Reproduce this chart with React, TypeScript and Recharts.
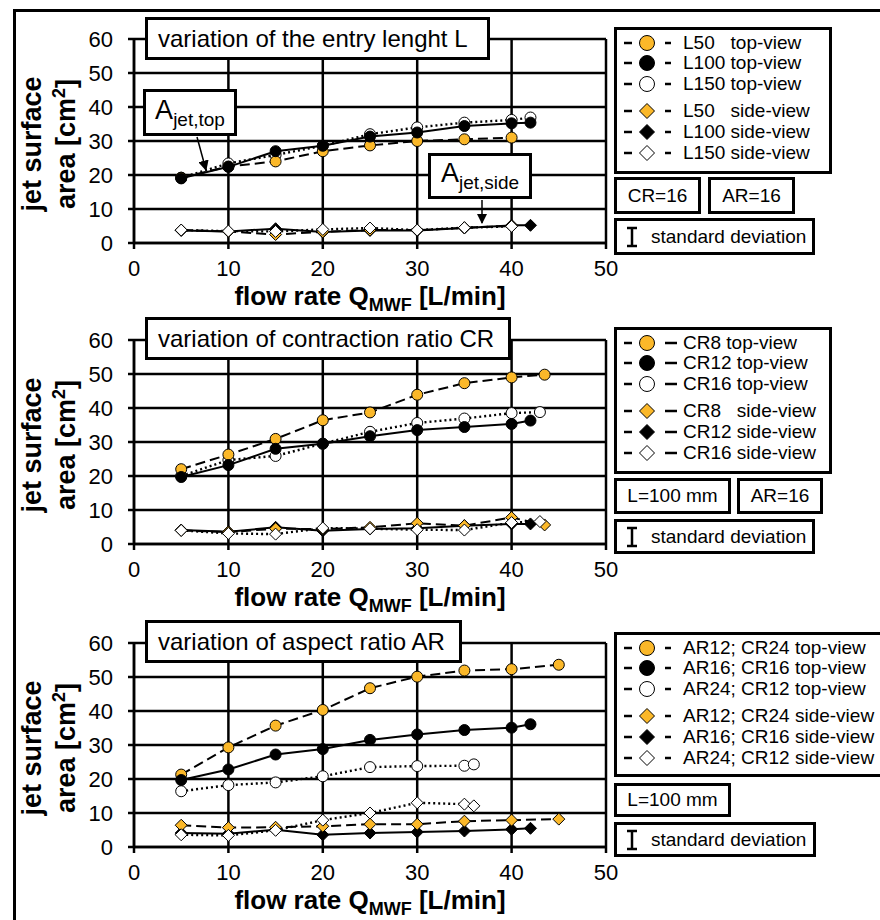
import React from 'react';
import { LineChart, Line, XAxis, YAxis, CartesianGrid } from 'recharts';

const FONT = '"Liberation Sans", Arial, Helvetica, sans-serif';
const YELLOW = '#FBB829';

// flow rates Q_MWF [L/min]
const q40 = [5, 10, 15, 20, 25, 30, 35, 40];
const q42 = [5, 10, 15, 20, 25, 30, 35, 40, 42];
const q43 = [5, 10, 15, 20, 25, 30, 35, 40, 43];
const q435 = [5, 10, 15, 20, 25, 30, 35, 40, 43.5];
const q45 = [5, 10, 15, 20, 25, 30, 35, 40, 45];
const q36 = [5, 10, 15, 20, 25, 30, 35, 36];

// panel 1: entry length L, jet surface area [cm²]
const l50Top = [19.2, 22.5, 24.0, 27.0, 28.7, 30.0, 30.5, 31.0];
const l100Top = [19.0, 22.4, 27.0, 28.6, 31.3, 32.5, 34.4, 35.2, 35.4];
const l150Top = [19.2, 23.4, 25.9, 28.6, 32.0, 34.0, 35.4, 36.2, 36.9];
const l50Side = [3.8, 3.4, 2.5, 3.3, 3.8, 3.8, 4.5, 5.0];
const l100Side = [3.7, 3.4, 4.2, 3.2, 3.7, 3.7, 4.4, 5.2, 5.2];
const l150Side = [3.8, 3.5, 3.4, 4.0, 4.4, 3.8, 4.5, 4.9];

// panel 2: contraction ratio CR
const cr8Top = [22.0, 26.3, 30.9, 36.4, 38.7, 43.9, 47.3, 49.0, 49.8];
const cr12Top = [19.7, 23.2, 28.0, 29.5, 31.7, 33.5, 34.4, 35.3, 36.3];
const cr16Top = [20.0, 24.7, 25.9, 29.5, 33.0, 35.6, 36.9, 38.5, 38.8];
const cr8Side = [4.0, 3.5, 4.5, 4.4, 4.9, 6.1, 5.4, 7.8, 5.6];
const cr12Side = [4.1, 3.6, 4.9, 3.9, 4.4, 4.6, 5.4, 5.9, 5.9];
const cr16Side = [4.0, 3.1, 2.9, 4.7, 4.5, 4.2, 4.1, 6.3, 6.6];

// panel 3: aspect ratio AR
const ar12Top = [21.3, 29.3, 35.7, 40.3, 46.7, 50.1, 51.9, 52.3, 53.6];
const ar16Top = [19.7, 22.8, 27.2, 28.8, 31.5, 33.1, 34.4, 35.1, 36.1];
const ar24Top = [16.4, 18.2, 19.0, 20.8, 23.5, 23.8, 23.9, 24.3];
const ar12Side = [6.4, 5.7, 5.8, 6.1, 6.7, 6.7, 7.6, 7.9, 8.2];
const ar16Side = [4.1, 3.9, 5.1, 3.6, 4.1, 4.4, 4.7, 5.2, 5.5];
const ar24Side = [3.6, 3.4, 4.9, 7.9, 10.0, 13.0, 12.6, 12.1];

const xTicks = [0, 10, 20, 30, 40, 50];
const yTicks = [0, 10, 20, 30, 40, 50, 60];

type Shape = 'circle' | 'diamond';
type Series = { key: string; label: string; q: number[]; a: number[]; fill: string; shape: Shape; dash?: string };

const DASHED = '10 5';
const DOTTED = '2 3';

const toPts = (q: number[], a: number[]) => q.map((x, i) => ({ q: x, a: a[i] }));

// legend order (top-view first, then side-view)
const panel1: Series[] = [
  { key: 'l50t', label: 'L50   top-view', q: q40, a: l50Top, fill: YELLOW, shape: 'circle', dash: DASHED },
  { key: 'l100t', label: 'L100 top-view', q: q42, a: l100Top, fill: '#000', shape: 'circle' },
  { key: 'l150t', label: 'L150 top-view', q: q42, a: l150Top, fill: '#fff', shape: 'circle', dash: DOTTED },
  { key: 'l50s', label: 'L50   side-view', q: q40, a: l50Side, fill: YELLOW, shape: 'diamond', dash: DASHED },
  { key: 'l100s', label: 'L100 side-view', q: q42, a: l100Side, fill: '#000', shape: 'diamond' },
  { key: 'l150s', label: 'L150 side-view', q: q40, a: l150Side, fill: '#fff', shape: 'diamond', dash: DOTTED },
];

const panel2: Series[] = [
  { key: 'cr8t', label: 'CR8 top-view', q: q435, a: cr8Top, fill: YELLOW, shape: 'circle', dash: DASHED },
  { key: 'cr12t', label: 'CR12 top-view', q: q42, a: cr12Top, fill: '#000', shape: 'circle' },
  { key: 'cr16t', label: 'CR16 top-view', q: q43, a: cr16Top, fill: '#fff', shape: 'circle', dash: DOTTED },
  { key: 'cr8s', label: 'CR8   side-view', q: q435, a: cr8Side, fill: YELLOW, shape: 'diamond', dash: DASHED },
  { key: 'cr12s', label: 'CR12 side-view', q: q42, a: cr12Side, fill: '#000', shape: 'diamond' },
  { key: 'cr16s', label: 'CR16 side-view', q: q43, a: cr16Side, fill: '#fff', shape: 'diamond', dash: DOTTED },
];

const panel3: Series[] = [
  { key: 'ar12t', label: 'AR12; CR24 top-view', q: q45, a: ar12Top, fill: YELLOW, shape: 'circle', dash: DASHED },
  { key: 'ar16t', label: 'AR16; CR16 top-view', q: q42, a: ar16Top, fill: '#000', shape: 'circle' },
  { key: 'ar24t', label: 'AR24; CR12 top-view', q: q36, a: ar24Top, fill: '#fff', shape: 'circle', dash: DOTTED },
  { key: 'ar12s', label: 'AR12; CR24 side-view', q: q45, a: ar12Side, fill: YELLOW, shape: 'diamond', dash: DASHED },
  { key: 'ar16s', label: 'AR16; CR16 side-view', q: q42, a: ar16Side, fill: '#000', shape: 'diamond' },
  { key: 'ar24s', label: 'AR24; CR12 side-view', q: q36, a: ar24Side, fill: '#fff', shape: 'diamond', dash: DOTTED },
];

// paint order: white, yellow, black for top-view; black, yellow, white for side-view
const drawOrder = [2, 0, 1, 4, 3, 5];

const Marker = ({ cx, cy, r, fill, shape }: { cx: number; cy: number; r: number; fill: string; shape: Shape }) =>
  shape === 'circle' ? (
    <circle cx={cx} cy={cy} r={r} fill={fill} stroke="#000" strokeWidth={1} />
  ) : (
    <polygon
      points={`${cx},${cy - r} ${cx + r},${cy} ${cx},${cy + r} ${cx - r},${cy}`}
      fill={fill}
      stroke="#000"
      strokeWidth={1}
    />
  );

const xTitle = (props: any) => {
  const vb = props.viewBox;
  return (
    <text x={vb.x + vb.width / 2} y={vb.y + 62} textAnchor="middle" fontSize={26} fontWeight="bold" fill="#000">
      flow rate Q
      <tspan dy={6} fontSize={18}>MWF</tspan>
      <tspan dy={-6}> [L/min]</tspan>
    </text>
  );
};

const yTitle = (props: any) => {
  const vb = props.viewBox;
  const cy = vb.y + vb.height / 2 + 3;
  const x1 = vb.x - 43;
  const x2 = vb.x - 9;
  return (
    <g>
      <text x={x1} y={cy} transform={`rotate(-90 ${x1} ${cy})`} textAnchor="middle" fontSize={27} fontWeight="bold" fill="#000">
        jet surface
      </text>
      <text x={x2} y={cy} transform={`rotate(-90 ${x2} ${cy})`} textAnchor="middle" fontSize={27} fontWeight="bold" fill="#000">
        area [cm
        <tspan dy={-10} fontSize={18}>2</tspan>
        <tspan dy={10}>]</tspan>
      </text>
    </g>
  );
};

const Panel = ({ top, series }: { top: number; series: Series[] }) => (
  <div style={{ position: 'absolute', left: 0, top }}>
    <LineChart width={880} height={320} margin={{ top: 39, right: 274, bottom: 17, left: 84 }}>
      <CartesianGrid stroke="#000" strokeWidth={2.5} />
      <XAxis
        type="number"
        dataKey="q"
        domain={[0, 50]}
        ticks={xTicks}
        height={60}
        axisLine={{ stroke: '#000', strokeWidth: 2.5 }}
        tickLine={{ stroke: '#000', strokeWidth: 2.5 }}
        tickSize={6}
        tickMargin={11}
        tick={{ fontSize: 22, fill: '#000' }}
        label={{ content: xTitle }}
      />
      <YAxis
        type="number"
        dataKey="a"
        domain={[0, 60]}
        ticks={yTicks}
        width={50}
        axisLine={{ stroke: '#000', strokeWidth: 2.5 }}
        tickLine={{ stroke: '#000', strokeWidth: 2.5 }}
        tickSize={6}
        tickMargin={15}
        tick={{ fontSize: 22, fill: '#000' }}
        label={{ content: yTitle }}
      />
      {drawOrder.map((i) => {
        const s = series[i];
        return (
          <Line
            key={s.key}
            data={toPts(s.q, s.a)}
            dataKey="a"
            type="linear"
            stroke="#000"
            strokeWidth={s.dash === DOTTED ? 2.4 : 2}
            strokeDasharray={s.dash}
            isAnimationActive={false}
            dot={(p: any) => <Marker key={`${s.key}-${p.index}`} cx={p.cx} cy={p.cy} r={s.shape === 'circle' ? 5.5 : 6} fill={s.fill} shape={s.shape} />}
            activeDot={false}
          />
        );
      })}
    </LineChart>
  </div>
);

const Box = ({ x, y, w, h, children, style }: { x: number; y: number; w: number; h: number; children?: React.ReactNode; style?: React.CSSProperties }) => (
  <div
    style={{
      position: 'absolute',
      left: x,
      top: y,
      width: w,
      height: h,
      boxSizing: 'border-box',
      border: '3px solid #000',
      background: '#fff',
      color: '#000',
      display: 'flex',
      alignItems: 'center',
      whiteSpace: 'pre',
      ...style,
    }}
  >
    {children}
  </div>
);

const rowY = [16, 36, 57, 84, 105, 126];

const LegendBox = ({ x, y, w, h, series, dashEnd }: { x: number; y: number; w: number; h: number; series: Series[]; dashEnd: number }) => (
  <Box x={x} y={y} w={w} h={h}>
    {series.map((s, i) => (
      <div key={s.key} style={{ position: 'absolute', left: 0, top: rowY[i] - 3 - 11, height: 22, display: 'flex', alignItems: 'center' }}>
        <svg width={66} height={22} style={{ display: 'block' }}>
          <line x1={7} x2={15} y1={11} y2={11} stroke="#000" strokeWidth={2.5} />
          <Marker cx={30} cy={11} r={7.5} fill={s.fill} shape={s.shape} />
          <line x1={48} x2={dashEnd} y1={11} y2={11} stroke="#000" strokeWidth={2.5} />
        </svg>
        <span style={{ fontSize: 19, whiteSpace: 'pre' }}>{s.label}</span>
      </div>
    ))}
  </Box>
);

const StdDev = ({ x, y, w, h }: { x: number; y: number; w: number; h: number }) => (
  <Box x={x} y={y} w={w} h={h} style={{ fontSize: 19 }}>
    <svg width={24} height={22} style={{ marginLeft: 6, display: 'block' }}>
      <line x1={4} x2={14} y1={2} y2={2} stroke="#000" strokeWidth={2.5} />
      <line x1={9} x2={9} y1={2} y2={20} stroke="#000" strokeWidth={2.5} />
      <line x1={4} x2={14} y1={20} y2={20} stroke="#000" strokeWidth={2.5} />
    </svg>
    <span style={{ marginLeft: 4 }}>standard deviation</span>
  </Box>
);

const Centered = ({ x, y, w, h, text }: { x: number; y: number; w: number; h: number; text: string }) => (
  <Box x={x} y={y} w={w} h={h} style={{ justifyContent: 'center', fontSize: 19 }}>
    {text}
  </Box>
);

const AjetLabel = ({ x, y, w, h, sub }: { x: number; y: number; w: number; h: number; sub: string }) => (
  <Box x={x} y={y} w={w} h={h} style={{ justifyContent: 'center' }}>
    <span style={{ fontSize: 27, lineHeight: 1 }}>
      A<sub style={{ fontSize: 19, verticalAlign: -7 }}>{sub}</sub>
    </span>
  </Box>
);

const App = () => (
  <div style={{ position: 'absolute', left: 0, top: 0, width: 880, height: 920, overflow: 'hidden', background: '#fff', fontFamily: FONT }}>
    <div style={{ position: 'absolute', left: 13, top: 9, width: 880, height: 920, borderTop: '3px solid #000', borderLeft: '3px solid #000' }} />

    <Panel top={0} series={panel1} />
    <Panel top={301} series={panel2} />
    <Panel top={604} series={panel3} />

    {/* panel titles */}
    <Box x={145} y={17} w={345} h={43} style={{ fontSize: 24, paddingLeft: 10 }}>variation of the entry lenght L</Box>
    <Box x={145} y={317} w={366} h={43} style={{ fontSize: 24, paddingLeft: 10 }}>variation of contraction ratio CR</Box>
    <Box x={145} y={620} w={317} h={43} style={{ fontSize: 24, paddingLeft: 10 }}>variation of aspect ratio AR</Box>

    {/* annotations in panel 1 */}
    <AjetLabel x={143} y={89} w={94} h={47} sub="jet,top" />
    <AjetLabel x={428} y={153} w={104} h={46} sub="jet,side" />
    <svg width={880} height={920} style={{ position: 'absolute', left: 0, top: 0, pointerEvents: 'none' }}>
      <defs>
        <marker id="ah" viewBox="0 0 10 10" refX={9} refY={5} markerWidth={7} markerHeight={7} orient="auto">
          <path d="M0,0 L10,5 L0,10 z" fill="#000" />
        </marker>
      </defs>
      <line x1={197} y1={137} x2={206} y2={170} stroke="#000" strokeWidth={1.5} markerEnd="url(#ah)" />
      <line x1={482} y1={200} x2={482} y2={223} stroke="#000" strokeWidth={1.5} markerEnd="url(#ah)" />
    </svg>

    {/* legends */}
    <LegendBox x={614} y={27} w={218} h={147} series={panel1} dashEnd={54} />
    <Centered x={614} y={177} w={87} h={37} text="CR=16" />
    <Centered x={708} y={177} w={87} h={37} text="AR=16" />
    <StdDev x={614} y={218} w={201} h={37} />

    <LegendBox x={614} y={327} w={218} h={147} series={panel2} dashEnd={60} />
    <Centered x={614} y={478} w={117} h={36} text="L=100 mm" />
    <Centered x={737} y={478} w={86} h={36} text="AR=16" />
    <StdDev x={614} y={519} w={201} h={35} />

    <LegendBox x={614} y={632} w={276} h={145} series={panel3} dashEnd={54} />
    <Centered x={614} y={783} w={117} h={34} text="L=100 mm" />
    <StdDev x={614} y={822} w={202} h={35} />
  </div>
);

export default App;
